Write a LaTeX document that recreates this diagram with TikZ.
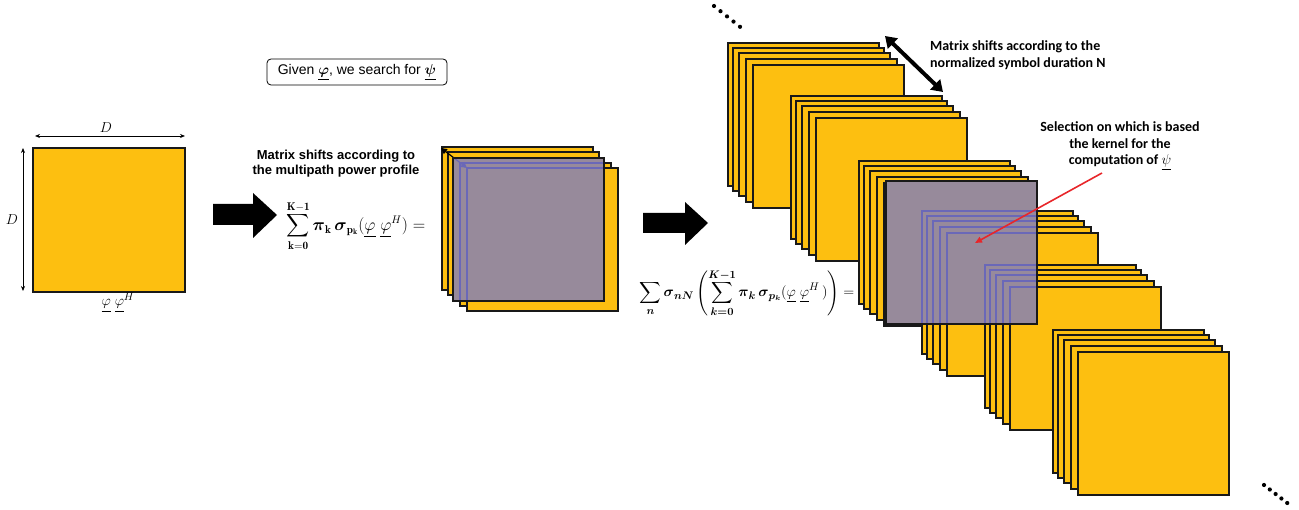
\documentclass[tikz,border=0pt]{standalone}
\usepackage{amsmath,amssymb}
\usepackage{fontspec}
\newfontfamily\arialf{Liberation Sans}
\newfontfamily\calib{Carlito}
\usetikzlibrary{arrows.meta}
\definecolor{yel}{HTML}{FDBF10}
\definecolor{purp}{HTML}{978A9B}
\definecolor{blu}{HTML}{6A68B8}
\definecolor{redarr}{HTML}{E8262A}
\tikzset{
  ysq/.style={draw=black!90, line width=1.4pt, fill=yel},
  psq/.style={fill=purp},
  pborder/.style={draw=black!90, line width=1.6pt},
  bline/.style={draw=blu, line width=1.2pt},
  dimarr/.style={line width=0.7pt, {Stealth[length=5pt,width=4pt]}-{Stealth[length=5pt,width=4pt]}},
  blockarr/.style={fill=black},
  dotmark/.style={fill=black},
  labsf/.style={font=\arialf\bfseries\fontsize{13}{15}\selectfont, align=center, inner sep=0pt},
  labcal/.style={font=\calib\bfseries\fontsize{14}{16.5}\selectfont, inner sep=0pt},
  mathlab/.style={inner sep=0pt},
  dlab/.style={font=\fontsize{15}{17}\selectfont, inner sep=0pt},
}
\newcommand\matstack[2]{%
  \foreach \dx/\dy in {-25/-22,-20/-17,-14/-12,-7/-6,0/0}{%
    \draw[ysq] ({#1+\dx},{#2+\dy}) rectangle ++(151,143);}}
\newcommand\matstackblue[2]{%
  \foreach \dx/\dy in {-25/-22,-20/-17,-14/-12,-7/-6,0/0}{%
    \draw[bline] ({#1+\dx},{#2+\dy}) rectangle ++(151,143);}}
\begin{document}
\begin{tikzpicture}[x=1pt,y=-1pt]
\useasboundingbox (0,0) rectangle (1299,510);

% ---------- left matrix ----------
\node[ysq, minimum width=152pt, minimum height=144pt, inner sep=0pt, outer sep=0pt, anchor=north west] (M) at (33,148) {};
\coordinate (dh1) at (35,136); \coordinate (dh2) at (185,136);
\coordinate (dv1) at (23,148); \coordinate (dv2) at (23,291);
\draw[dimarr] (dh1) -- (dh2);
\draw[dimarr] (dv1) -- (dv2);
\node[dlab] (Dtop) at (106,128) {$D$};
\node[dlab] (Dleft) at (12,220) {$D$};
\node[dlab, anchor=north] (phiphi) at (118,293) {$\underline{\varphi}\;\underline{\varphi}^{H}$};

% ---------- given box ----------
\node[draw, rounded corners=4pt, line width=0.8pt, font=\arialf\fontsize{14}{16}\selectfont,
      minimum width=180pt, minimum height=26pt, inner sep=1pt] (given) at (357,72)
      {Given $\underline{\boldsymbol{\varphi}}$, we search for $\underline{\boldsymbol{\psi}}$};

% ---------- first block arrow ----------
\fill[blockarr] (213,204) -- (253,204) -- (253,193) -- (277,215) -- (253,238) -- (253,225) -- (213,225) -- cycle;

\node[labsf] (shift1) at (336,164) {Matrix shifts according to\\the multipath power profile};
\node[mathlab, font=\fontsize{16}{18}\selectfont] (f1) at (356,226) {$\displaystyle\sum_{\mathbf{k=0}}^{\mathbf{K-1}}\boldsymbol{\pi}_{\mathbf{k}}\,\boldsymbol{\sigma}_{\mathbf{p}_{\mathbf{k}}}(\underline{\varphi}\;\underline{\varphi}^{H})=$};

% ---------- middle stack ----------
\draw[ysq] (442,147) rectangle ++(151,143);
\draw[ysq] (448,152) rectangle ++(151,143);
\draw[ysq] (453,158) rectangle ++(151,143);
\draw[ysq] (460,163) rectangle ++(151,143);
\draw[ysq] (467,168) rectangle ++(151,143);
\coordinate (sa1) at (441,148); \coordinate (sa2) at (467,168);
\draw[line width=1.2pt, {Triangle[length=6pt,width=6pt]}-{Triangle[length=6pt,width=6pt]}] (sa1) -- (sa2);
\fill[psq] (453,158) rectangle ++(151,143);
\begin{scope}
  \clip (453,158) rectangle ++(151,143);
  \draw[bline] (460,163) rectangle ++(151,143);
  \draw[bline] (467,168) rectangle ++(151,143);
  \draw[line width=1.2pt, blu, -{Triangle[length=6pt,width=6pt]}] (sa1) -- (sa2);
\end{scope}
\draw[pborder] (453,158) rectangle ++(151,143);

% ---------- second block arrow ----------
\fill[blockarr] (643,213) -- (685,213) -- (685,202) -- (708,223) -- (685,245) -- (685,233) -- (643,233) -- cycle;

\node[mathlab, font=\fontsize{15}{17}\selectfont] (f2) at (747,293) {$\displaystyle\sum_{\boldsymbol{n}}\boldsymbol{\sigma}_{\boldsymbol{nN}}\left(\sum_{\boldsymbol{k=0}}^{\boldsymbol{K-1}}\boldsymbol{\pi}_{\boldsymbol{k}}\,\boldsymbol{\sigma}_{\boldsymbol{p_k}}(\underline{\varphi}\;\underline{\varphi}^{H}\,)\right)=$};

% ---------- right stacks ----------
\matstack{753}{65}
\matstack{816}{118}
\matstack{884}{183}
\matstack{947}{233}
\matstack{1010}{287}
\matstack{1078}{352}
\fill[psq] (886,181) rectangle ++(151,143);
\begin{scope}
  \clip (886,181) rectangle ++(151,143);
  \matstackblue{947}{233}
  \matstackblue{1010}{287}
\end{scope}
\draw[pborder] (886,181) rectangle ++(151,143);

% ---------- dots ----------
\foreach \i in {0,...,4} \fill[dotmark] ({714+\i*6.5},{6+\i*5.2}) circle (2.1);
\foreach \i in {0,...,4} \fill[dotmark] ({1264+\i*5.8},{485+\i*4.5}) circle (2.1);

% ---------- double arrow ----------
\coordinate (na1) at (885,36); \coordinate (na2) at (943,92);
\draw[line width=4pt, {Triangle[length=11pt,width=14pt]}-{Triangle[length=11pt,width=14pt]}] (na1) -- (na2);
\node[labcal, align=left, anchor=west] (shift2) at (930,55) {Matrix shifts according to the\\normalized symbol duration N};

% ---------- selection ----------
\node[labcal, align=center] (sel) at (1120,146) {Selection on which is based\\the kernel for the\\computation of $\underline{\psi}$};
\coordinate (ra1) at (1102,173); \coordinate (ra2) at (975,243);
\draw[redarr, line width=1.6pt, -{Triangle[length=7pt,width=6pt]}] (ra1) -- (ra2);
\end{tikzpicture}
\end{document}
